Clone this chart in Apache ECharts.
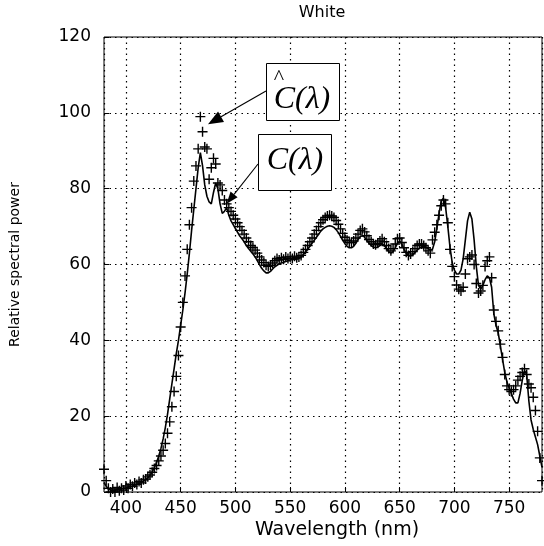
<!DOCTYPE html>
<html><head><meta charset="utf-8">
<script src="https://cdn.jsdelivr.net/npm/echarts@6/dist/echarts.min.js"></script>
<style>html,body{margin:0;padding:0;background:#fff}#c{width:544px;height:546px}</style>
</head><body><div id="c"></div>
<script>
const wavelengths = [
380,382,384,386,388,390,392,394,396,398,
400,402,404,406,408,410,412,414,416,418,
420,422,424,426,428,430,432,434,436,438,
440,442,444,446,448,450,452,454,456,458,
460,462,464,466,468,470,472,474,476,478,
480,482,484,486,488,490,492,494,496,498,
500,502,504,506,508,510,512,514,516,518,
520,522,524,526,528,530,532,534,536,538,
540,542,544,546,548,550,552,554,556,558,
560,562,564,566,568,570,572,574,576,578,
580,582,584,586,588,590,592,594,596,598,
600,602,604,606,608,610,612,614,616,618,
620,622,624,626,628,630,632,634,636,638,
640,642,644,646,648,650,652,654,656,658,
660,662,664,666,668,670,672,674,676,678,
680,682,684,686,688,690,692,694,696,698,
700,702,704,706,708,710,712,714,716,718,
720,722,724,726,728,730,732,734,736,738,
740,742,744,746,748,750,752,754,756,758,
760,762,764,766,768,770,772,774,776,778,
780];
// C(lambda): solid line
const measured = [
2.5,1.5,0.8,0.5,0.4,0.5,0.6,0.7,0.8,0.9,
1.0,1.2,1.4,1.6,1.8,2.0,2.2,2.5,2.8,3.2,
3.7,4.4,5.3,6.4,7.8,9.5,11.5,14.0,17.0,20.5,
24.5,28.5,32.5,36.5,40.0,44.0,48.0,52.5,57.5,63.0,
69.0,74.5,80.0,85.5,89.5,86.0,81.0,78.0,76.5,76.0,
79.0,81.5,80.0,76.0,73.5,74.0,75.0,73.0,71.5,70.5,
69.5,68.5,67.5,66.8,66.0,65.0,64.2,63.5,62.8,62.0,
61.0,60.0,59.0,58.3,57.8,57.8,58.2,58.8,59.4,59.8,
60.2,60.4,60.6,60.8,61.0,61.2,61.3,61.3,61.4,61.6,
62.0,62.6,63.3,64.0,64.8,65.6,66.4,67.2,68.0,68.8,
69.4,69.8,70.1,70.2,70.1,69.8,69.2,68.4,67.4,66.4,
65.5,64.8,64.4,64.4,64.8,65.6,66.6,67.4,67.6,67.2,
66.4,65.6,65.0,64.6,64.4,64.6,65.0,65.4,65.0,64.2,
63.4,63.0,63.4,64.4,65.6,66.2,65.4,64.0,63.0,62.4,
62.2,62.6,63.2,63.8,64.3,64.6,64.8,64.6,64.2,63.8,
64.0,66.0,69.5,73.5,76.8,77.5,75.0,70.0,64.5,60.5,
58.5,57.5,57.5,58.5,61.5,66.5,71.5,73.8,72.0,66.5,
59.5,54.5,53.5,54.5,56.0,57.0,56.5,54.0,47.0,44.0,
42.0,38.5,35.0,31.5,29.0,27.5,26.0,24.5,23.5,23.5,
26.0,29.5,32.0,31.0,24.0,19.0,16.5,14.5,12.5,9.5,
6.5];
// C-hat(lambda): "+" markers
const estimated = [
6.0,3.0,1.0,0.0,0.8,0.0,1.2,0.3,1.0,0.5,
1.6,1.0,2.0,1.5,2.4,2.0,2.8,2.4,3.2,3.4,
4.0,4.5,5.2,6.2,7.0,8.2,9.5,11.0,12.8,15.5,
18.5,22.5,26.5,30.5,36.0,43.5,50.0,57.0,64.0,70.5,
75.0,82.0,86.0,90.5,99.0,95.0,91.0,90.5,82.5,85.5,
88.0,86.5,81.5,81.0,79.5,77.0,76.0,75.0,74.0,73.0,
72.0,71.0,70.0,69.0,68.0,67.0,66.0,65.0,64.5,63.8,
63.0,62.0,61.2,60.5,59.8,59.5,59.8,60.4,61.0,61.6,
61.2,61.8,61.4,62.0,61.6,62.0,61.6,62.2,61.8,62.0,
62.4,63.2,64.0,65.0,66.0,67.0,68.0,69.0,70.0,71.0,
71.8,72.4,72.8,73.0,72.8,72.4,71.6,70.6,69.4,68.2,
67.2,66.4,65.8,65.8,66.2,67.0,68.0,69.0,69.4,68.6,
67.6,66.6,66.0,65.4,65.2,65.6,66.2,66.8,66.0,65.0,
64.2,63.6,64.2,65.4,66.8,67.0,65.8,64.4,63.2,62.4,
62.8,63.4,64.2,65.0,65.4,65.4,65.0,64.4,63.6,63.0,
66.5,68.5,70.5,73.0,75.5,77.0,76.0,71.0,64.0,59.5,
56.8,54.6,53.5,53.0,54.0,57.5,61.5,62.0,62.5,60.0,
55.0,52.5,53.0,54.5,59.5,61.0,62.0,56.5,48.0,45.0,
42.5,39.0,35.5,31.0,28.0,27.0,26.5,27.0,28.0,29.5,
30.5,31.5,32.5,31.0,28.5,27.5,25.0,21.5,16.0,9.0,
3.0];
const titleText = 'White';
const xName = 'Wavelength (nm)';
const yName = 'Relative spectral power';
const labelHat = 'C(λ)';
const labelPlain = 'C(λ)';
const arrowTipHat = [475, 97];
const arrowTipPlain = [492, 76];

const chart = echarts.init(document.getElementById('c'), null, {renderer: 'canvas'});
const F = 'DejaVu Sans';
const SER = 'Liberation Serif';
const grid = {left: 102, right: 2, top: 37, bottom: 54};
const dotted = {color: '#000', width: 1.2, type: [1.5, 4]};

chart.setOption({
  animation: false,
  backgroundColor: '#fff',
  grid: Object.assign({show: true, borderColor: '#000', borderWidth: 1, backgroundColor: 'transparent'}, grid),
  xAxis: {
    type: 'value', min: 380, max: 780, splitNumber: 8,
    axisLine: {show: false},
    axisTick: {show: true, inside: true, length: 5, lineStyle: {color: '#000'}},
    axisLabel: {fontFamily: F, fontSize: 17, color: '#000', margin: 8, showMinLabel: false, showMaxLabel: false},
    splitLine: {show: true, lineStyle: dotted}
  },
  yAxis: {
    type: 'value', min: 0, max: 120, interval: 20,
    name: yName, nameLocation: 'middle', nameGap: 82, nameRotate: 90,
    nameTextStyle: {fontFamily: F, fontSize: 14, color: '#000'},
    axisLine: {show: false},
    axisTick: {show: true, inside: true, length: 5, lineStyle: {color: '#000'}},
    axisLabel: {fontFamily: F, fontSize: 17, color: '#000', margin: 13},
    splitLine: {show: true, lineStyle: dotted}
  },
  series: [
    {
      type: 'line', name: 'C',
      data: wavelengths.map((w, i) => [w, measured[i]]),
      showSymbol: false, symbol: 'none',
      lineStyle: {color: '#000', width: 1.6},
      z: 3
    },
    {
      type: 'scatter', name: 'Chat',
      data: wavelengths.map((w, i) => [w, estimated[i]]),
      symbol: 'path://M4.3,0H5.7V4.3H10V5.7H5.7V10H4.3V5.7H0V4.3H4.3Z',
      symbolSize: 10,
      itemStyle: {color: '#000', opacity: 1},
      z: 4
    }
  ]
});

function arrow(from, tipData, headLen, headHalf) {
  const tip = chart.convertToPixel({gridIndex: 0}, tipData);
  const dx = tip[0] - from[0], dy = tip[1] - from[1];
  const L = Math.sqrt(dx * dx + dy * dy);
  const ux = dx / L, uy = dy / L;
  const bx = tip[0] - ux * headLen, by = tip[1] - uy * headLen;
  const px = -uy, py = ux;
  return [
    {type: 'line', shape: {x1: from[0], y1: from[1], x2: bx, y2: by}, style: {stroke: '#000', lineWidth: 1.1}, z: 10},
    {type: 'polygon', shape: {points: [[tip[0], tip[1]], [bx + px * headHalf, by + py * headHalf], [bx - px * headHalf, by - py * headHalf]]}, style: {fill: '#000'}, z: 10}
  ];
}

const graphics = [
  {type: 'text', x: 322, y: 13, style: {text: titleText, fontFamily: F, fontSize: 16, fill: '#000', textAlign: 'center', textVerticalAlign: 'middle'}, z: 10},
  {type: 'text', x: 337, y: 530, style: {text: xName, fontFamily: F, fontSize: 19, fill: '#000', textAlign: 'center', textVerticalAlign: 'middle'}, z: 10},
  {type: 'rect', shape: {x: 266.5, y: 63.5, width: 73, height: 57}, style: {fill: '#fff', stroke: '#000', lineWidth: 1}, z: 10},
  {type: 'text', x: 302, y: 100, style: {text: labelHat, fontFamily: SER, fontStyle: 'italic', fontSize: 32, fill: '#000', textAlign: 'center', textVerticalAlign: 'middle'}, z: 11},
  {type: 'text', x: 279, y: 78, style: {text: '^', fontFamily: SER, fontSize: 22, fill: '#000', textAlign: 'center', textVerticalAlign: 'middle'}, z: 11},
  {type: 'rect', shape: {x: 258.5, y: 134.5, width: 73, height: 56}, style: {fill: '#fff', stroke: '#000', lineWidth: 1}, z: 10},
  {type: 'text', x: 295, y: 161, style: {text: labelPlain, fontFamily: SER, fontStyle: 'italic', fontSize: 32, fill: '#000', textAlign: 'center', textVerticalAlign: 'middle'}, z: 11}
].concat(arrow([266, 91], arrowTipHat, 15, 6)).concat(arrow([258, 164], arrowTipPlain, 12, 4.5));

chart.setOption({graphic: graphics});
</script>
</body></html>
